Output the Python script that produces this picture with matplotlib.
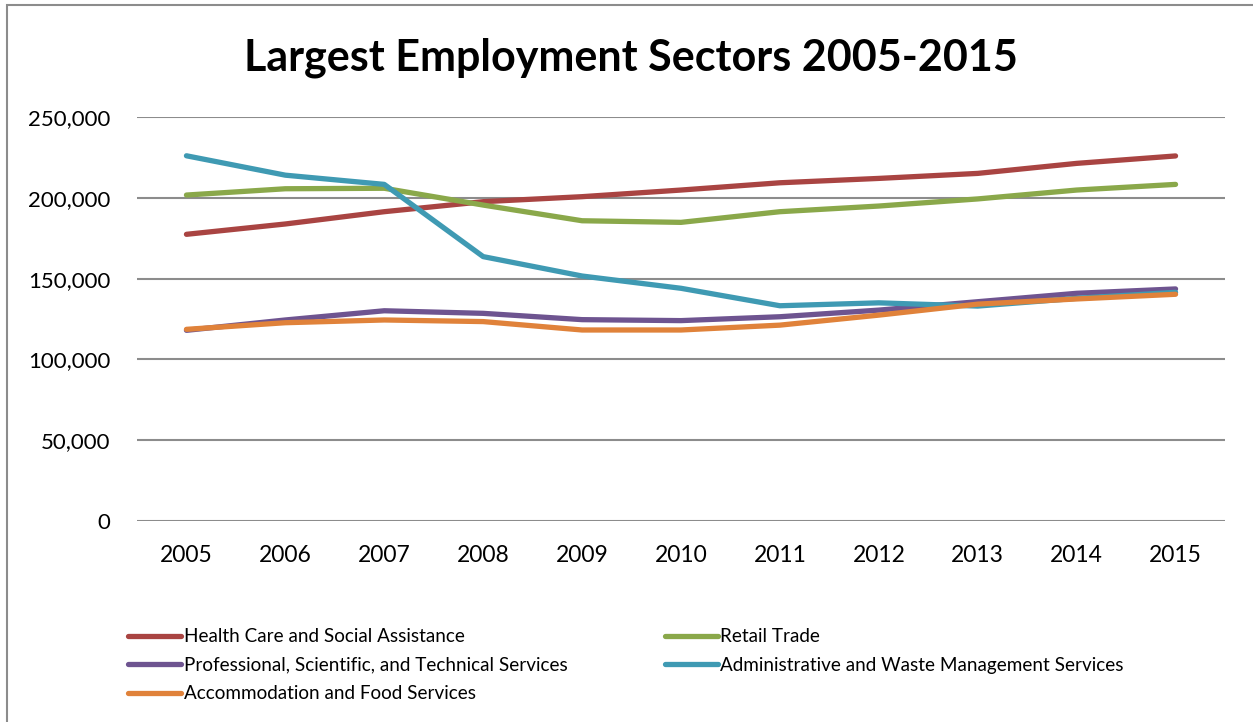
import matplotlib
matplotlib.use("Agg")
import matplotlib.pyplot as plt
from matplotlib.patches import Rectangle
from matplotlib.ticker import FuncFormatter

years = ["2005", "2006", "2007", "2008", "2009", "2010",
         "2011", "2012", "2013", "2014", "2015"]

health_care = [177400, 183800, 191400, 197600, 200700, 204800,
               209300, 212000, 215100, 221300, 225900]
retail_trade = [201700, 205600, 205900, 195500, 185800, 184800,
                191400, 194900, 199300, 204800, 208300]
professional = [118000, 124400, 130100, 128500, 124600, 124000,
                126400, 130500, 135700, 140900, 143600]
administrative = [226000, 214000, 208300, 163600, 151600, 144000,
                  133200, 135000, 133000, 137800, 141500]
accommodation = [118600, 122700, 124400, 123400, 118200, 118200,
                 121200, 127400, 134200, 137400, 140300]

series_names = [
    "Health Care and Social Assistance",
    "Retail Trade",
    "Professional, Scientific, and Technical Services",
    "Administrative and Waste Management Services",
    "Accommodation and Food Services",
]
series_values = [health_care, retail_trade, professional, administrative, accommodation]
series_colors = ["#A94442", "#8AA84A", "#6E5490", "#3F9AB3", "#E0823A"]

y_ticks = [0, 50000, 100000, 150000, 200000, 250000]

W, H = 1253, 722
fig = plt.figure(figsize=(W / 100, H / 100), dpi=100)
plt.rcParams["font.family"] = ["Lato", "DejaVu Sans"]

# outer chart frame (only left and top edges fall inside the image)
fig.patches.append(Rectangle((7 / W, -0.2), 1.5, 1.2 - 5 / H,
                             transform=fig.transFigure, fill=False,
                             edgecolor="#8c8c8c", linewidth=1.5))

ax = fig.add_axes([137 / W, (H - 521) / H, 1088 / W, 404 / H])
x = list(range(len(years)))
handles = []
for name, vals, col in zip(series_names, series_values, series_colors):
    (ln,) = ax.plot(x, vals, color=col, linewidth=3.8, solid_capstyle="round",
                    solid_joinstyle="round", label=name, zorder=3)
    handles.append(ln)

ax.set_xlim(-0.5, len(years) - 0.5)
ax.set_ylim(0, 250000)
ax.set_yticks(y_ticks)
ax.yaxis.set_major_formatter(FuncFormatter(lambda v, p: f"{int(v):,}"))
ax.set_xticks(x)
ax.set_xticklabels(years)
ax.grid(axis="y", color="#8c8c8c", linewidth=1.5)
ax.set_axisbelow(True)
for s in ax.spines.values():
    s.set_visible(False)
ax.tick_params(axis="both", length=0, labelsize=16, colors="black")
ax.tick_params(axis="x", labelsize=16.5, pad=17.5)
ax.tick_params(axis="y", pad=19)

fig.text(631 / W, 1 - 58 / H, "Largest Employment Sectors 2005-2015",
         ha="center", va="center", fontsize=31, fontweight="bold")

order = [0, 2, 4, 1, 3]
leg = fig.legend([handles[i] for i in order], [series_names[i] for i in order],
                 ncol=2, loc="upper left",
                 bbox_to_anchor=(119 / W, 1 - 619 / H),
                 bbox_transform=fig.transFigure, frameon=False,
                 fontsize=13.6, handlelength=2.8, handletextpad=0.12,
                 columnspacing=5.15, labelspacing=0.6, borderpad=0)

fig.savefig("out.png", dpi=100)
